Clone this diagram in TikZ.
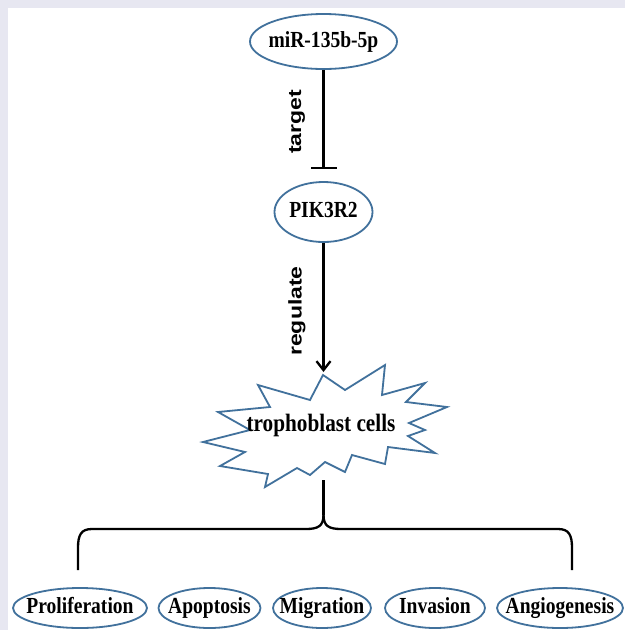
\documentclass[tikz,border=0pt]{standalone}
\usepackage{fontspec}
\setmainfont{Liberation Serif}[FakeStretch=0.85]
\newfontfamily\lsans{Liberation Sans}
\usetikzlibrary{shapes.geometric,arrows.meta}
\definecolor{bordblue}{HTML}{41719C}
\definecolor{lav}{HTML}{E7E7F1}
\begin{document}
\begin{tikzpicture}[x=1pt,y=-1pt,
  oval/.style={ellipse, draw=bordblue, line width=1.8pt, fill=white, inner sep=0pt},
  ovaltext/.style={inner sep=0pt, text height=15pt, text depth=4pt, font=\bfseries\fontsize{23}{23}\selectfont},
  conn/.style={line width=2.3pt, black},
  burst/.style={draw=bordblue, line width=1.8pt, fill=white, line join=miter},
  vlabel/.style={rotate=90, font=\lsans\bfseries\fontsize{23}{23}\selectfont, inner sep=0pt}]
\fill[lav] (0,0) rectangle (625,630);
\fill[white] (8,8) rectangle (625,630);
\useasboundingbox (0,0) rectangle (625,630);
% top nodes
\node[oval, minimum width=147pt, minimum height=55pt] (mir) at (323.5,41.5) {};
\node[ovaltext] (mirt) at (mir) {miR-135b-5p};
\node[oval, minimum width=98pt, minimum height=60pt] (pik) at (323.5,212) {};
\node[ovaltext] (pikt) at (pik) {PIK3R2};
\coordinate (bar) at (323.5,169);
\draw[conn, -{Bar[width=26pt]}] (mir.south) -- (bar);
\node[vlabel] (tg) at (297,122) {\scalebox{1}[0.8]{target}};
% starburst
\draw[burst] (323,375) -- (345,390) -- (385,365) -- (382,395) -- (425,383) -- (406,402)
  -- (447,407) -- (409,423) -- (425,430) -- (408,436) -- (435,453) -- (388,447)
  -- (385,464) -- (352,455) -- (345,472) -- (325,462) -- (310,475) -- (297,468)
  -- (265,487) -- (268,474) -- (220,466) -- (245,452) -- (203,442) -- (250,430)
  -- (218,412) -- (270,407) -- (258,385) -- (310,400) -- cycle;
\node[font=\bfseries\fontsize{25}{25}\selectfont, inner sep=0pt] (tb) at (321,425) {trophoblast cells};
\coordinate (sbtop) at (323.5,372);
\draw[conn, -{Straight Barb[length=9pt,width=14pt]}] (pik.south) -- (sbtop);
\node[vlabel] (rg) at (297,311) {\scalebox{1}[0.8]{regulate}};
% brace
\coordinate (sbbot) at (323.5,480);
\coordinate (cusp) at (323.5,515);
\coordinate (bl) at (78,570);
\coordinate (br) at (572,570);
\draw[conn] (sbbot) -- (cusp);
\draw[conn, line join=round] (cusp) .. controls (323.5,526) and (318,529) .. (306,529) -- (92,529)
  .. controls (81,529) and (78,535) .. (78,548) -- (bl);
\draw[conn, line join=round] (cusp) .. controls (323.5,526) and (329,529) .. (341,529) -- (558,529)
  .. controls (569,529) and (572,535) .. (572,548) -- (br);
% bottom nodes
\node[oval, minimum width=134pt, minimum height=40pt] (pro) at (80,608) {};
\node[ovaltext] (prot) at (pro) {Proliferation};
\node[oval, minimum width=102pt, minimum height=40pt] (apo) at (209.5,608) {};
\node[ovaltext] (apot) at (apo) {Apoptosis};
\node[oval, minimum width=98pt, minimum height=40pt] (mig) at (322,608) {};
\node[ovaltext] (migt) at (mig) {Migration};
\node[oval, minimum width=100pt, minimum height=40pt] (inv) at (435,608) {};
\node[ovaltext] (invt) at (inv) {Invasion};
\node[oval, minimum width=126pt, minimum height=40pt] (ang) at (560,608) {};
\node[ovaltext] (angt) at (ang) {Angiogenesis};
\end{tikzpicture}
\end{document}
